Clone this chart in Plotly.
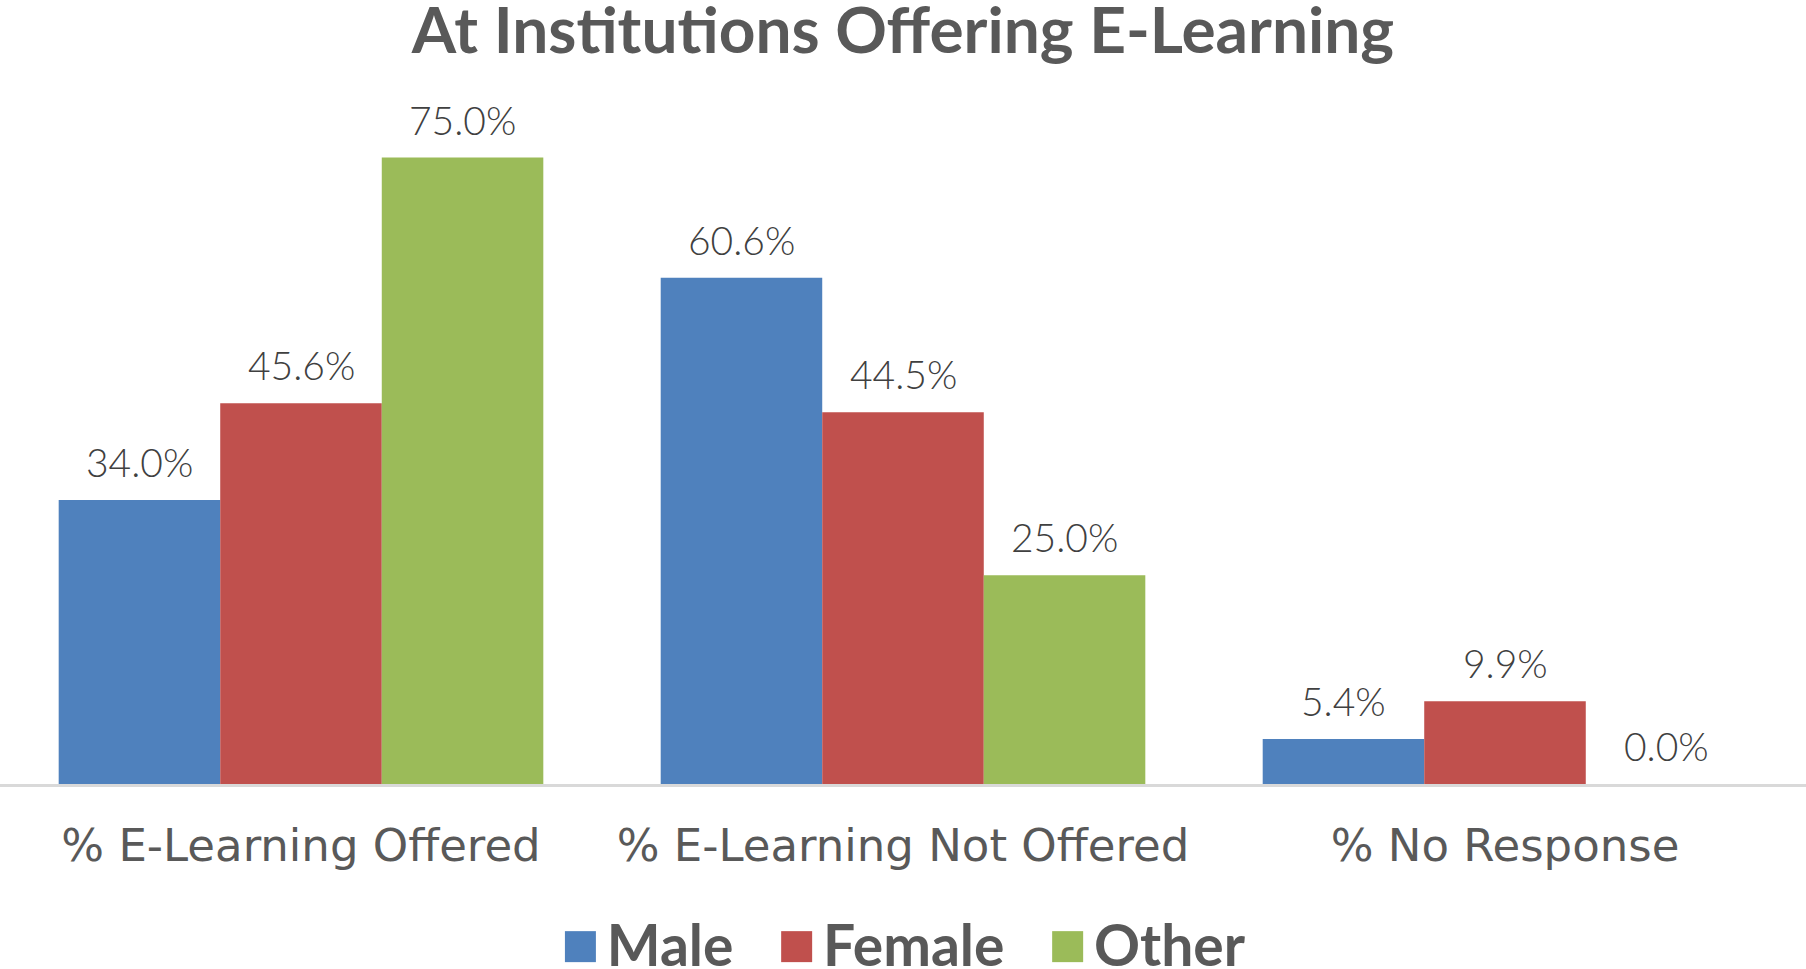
import plotly.graph_objects as go

# Data
categories = ["% E-Learning Offered", "% E-Learning Not Offered", "% No Response"]
male = [34.0, 60.6, 5.4]
female = [45.6, 44.5, 9.9]
other = [75.0, 25.0, 0.0]

series = [
    ("Male", male, "#4F81BD"),
    ("Female", female, "#C0504D"),
    ("Other", other, "#9BBB59"),
]

TITLE_COLOR = "#595959"
LABEL_COLOR = "#404040"
FONT = "Lato, 'Open Sans', sans-serif"
TICK_FONT = "'DejaVu Sans', sans-serif"

fig = go.Figure()
for name, vals, color in series:
    fig.add_trace(go.Bar(
        x=categories, y=vals, name=name,
        marker=dict(color=color, line=dict(width=0)),
        showlegend=False,
    ))

# data labels above bars
group_width = 0.805
n = len(series)
for i, (name, vals, color) in enumerate(series):
    offset = (i - (n - 1) / 2) * group_width / n
    for j, v in enumerate(vals):
        fig.add_annotation(
            x=j + offset, y=v, xref="x", yref="y",
            text=f"{v:.1f}%", showarrow=False,
            yanchor="bottom", yshift=13,
            font=dict(size=39, color=LABEL_COLOR, family=FONT, weight=300),
        )

# legend built as one centered line
sq = "<span style='font-size:64px'>\u25A0</span>"
gap = "\u00a0" * 3
legend_text = gap.join(
    f"<span style='color:{c}'>{sq}</span>\u2009<b>{nm}</b>" for nm, _, c in series
)
fig.add_annotation(
    x=0.5, y=-0.237, xref="paper", yref="paper",
    text=legend_text, showarrow=False, yanchor="middle", xanchor="center",
    font=dict(size=57, color=TITLE_COLOR, family=FONT),
)

fig.update_layout(
    width=1806, height=969,
    plot_bgcolor="white", paper_bgcolor="white",
    margin=dict(l=0, r=0, t=120, b=185),
    barmode="group", bargap=1 - group_width, bargroupgap=0,
    font=dict(family=FONT, color=TITLE_COLOR),
    title=dict(
        text="<b>At Institutions Offering E-Learning</b>",
        x=0.5, xanchor="center", y=1 - 31 / 969, yanchor="middle",
        font=dict(size=64, color=TITLE_COLOR, family=FONT),
    ),
)
fig.update_xaxes(
    showline=True, linecolor="#D9D9D9", linewidth=3,
    showgrid=False, ticks="", ticklabelstandoff=20,
    tickfont=dict(size=45, color=TITLE_COLOR, family=TICK_FONT),
)
fig.update_yaxes(
    range=[0, 79.5], visible=False, showgrid=False, zeroline=False,
)

fig.write_html(
    "out.html",
    config={"displayModeBar": False},
    post_script="document.body.style.margin='0';",
)
